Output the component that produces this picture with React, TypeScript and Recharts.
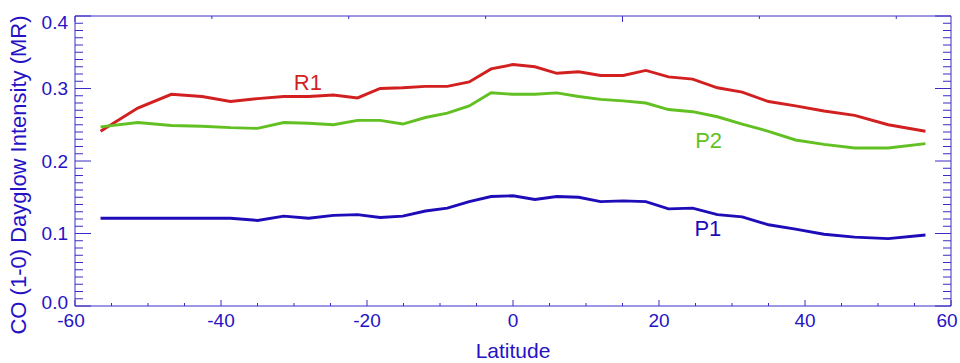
import { Line, LineChart, XAxis, YAxis, ReferenceDot } from "recharts";

// latitude grid of the retrievals (deg)
const latitudes = [
  -56.5, -51.4, -46.8, -42.6, -38.7, -35.0, -31.4, -28.0, -24.6, -21.3, -18.2, -15.1, -12.0, -9.0, -6.0, -3.0, 0,
  3.0, 6.0, 9.0, 12.0, 15.1, 18.2, 21.3, 24.6, 28.0, 31.4, 35.0, 38.7, 42.6, 46.8, 51.4, 56.5,
];

const r1 = [
  0.241, 0.273, 0.292, 0.289, 0.282, 0.286, 0.289, 0.289, 0.291, 0.287, 0.3, 0.301, 0.303, 0.303, 0.309, 0.327, 0.333,
  0.33, 0.321, 0.323, 0.318, 0.318, 0.325, 0.316, 0.313, 0.301, 0.295, 0.282, 0.276, 0.269, 0.263, 0.25, 0.241,
];
const p2 = [
  0.247, 0.253, 0.249, 0.248, 0.246, 0.245, 0.253, 0.252, 0.25, 0.256, 0.256, 0.251, 0.26, 0.266, 0.276, 0.294, 0.292,
  0.292, 0.294, 0.289, 0.285, 0.283, 0.28, 0.271, 0.268, 0.261, 0.251, 0.241, 0.229, 0.223, 0.218, 0.218, 0.224,
];
const p1 = [
  0.121, 0.121, 0.121, 0.121, 0.121, 0.118, 0.124, 0.121, 0.125, 0.126, 0.122, 0.124, 0.131, 0.135, 0.144, 0.151, 0.152,
  0.147, 0.151, 0.15, 0.144, 0.145, 0.144, 0.134, 0.135, 0.126, 0.123, 0.112, 0.106, 0.099, 0.095, 0.093, 0.098,
];

// every 5 deg, labelled every 20
const xTicks = [-60, -55, -50, -45, -40, -35, -30, -25, -20, -15, -10, -5, 0, 5, 10, 15, 20, 25, 30, 35, 40, 45, 50, 55, 60];
const xLabelled = [-60, -40, -20, 0, 20, 40, 60];
// every 0.01 MR, labelled every 0.1
const yTicks = Array.from({ length: 41 }, (_, i) => i / 100);
const isYMajor = (v: number) => Math.abs(v * 10 - Math.round(v * 10)) < 1e-6;

const seriesLabels = [
  { name: "R1", lat: -28.1, value: 0.309, color: "#d21f1f" },
  { name: "P2", lat: 26.8, value: 0.229, color: "#62c022" },
  { name: "P1", lat: 26.7, value: 0.107, color: "#1e0cb8" },
];

const FONT = '"Liberation Sans", Arial, Helvetica, sans-serif';
const TEXT = "#2612c4";
const AXIS = "#3a2cc4";

const data = latitudes.map((lat, i) => ({ lat, r1: r1[i], p2: p2[i], p1: p1[i] }));

// tick marks point into the frame, IDL style
function BottomTick(props: any) {
  const { x, y, payload } = props;
  const major = xLabelled.includes(payload.value);
  // end labels nudged so they stay on the page
  const dx = payload.value === -60 ? -4 : payload.value === 60 ? -4 : 0;
  return (
    <g>
      <line x1={x} x2={x} y1={y} y2={y - (major ? 6 : 3)} stroke={AXIS} />
      {major && (
        <text x={x + dx} y={y + 14} textAnchor="middle" dominantBaseline="central" fill={TEXT} fontSize={19} fontFamily={FONT}>
          {payload.value}
        </text>
      )}
    </g>
  );
}

function TopTick(props: any) {
  const { x, y, payload } = props;
  const major = xLabelled.includes(payload.value);
  return <line x1={x} x2={x} y1={y} y2={y + (major ? 6 : 3)} stroke={AXIS} />;
}

function LeftTick(props: any) {
  const { x, y, payload } = props;
  const major = isYMajor(payload.value);
  // end labels are kept inside the frame
  let dy = 0;
  if (payload.value >= 0.4) dy = 6;
  else if (payload.value <= 0) dy = -4;
  return (
    <g>
      <line x1={x} x2={x + (major ? 16 : 8)} y1={y} y2={y} stroke={AXIS} />
      {major && (
        <text x={x - 7} y={y + dy} textAnchor="end" dominantBaseline="central" fill={TEXT} fontSize={19} fontFamily={FONT}>
          {Number(payload.value).toFixed(1)}
        </text>
      )}
    </g>
  );
}

function RightTick(props: any) {
  const { x, y, payload } = props;
  const major = isYMajor(payload.value);
  return <line x1={x} x2={x - (major ? 16 : 8)} y1={y} y2={y} stroke={AXIS} />;
}

function YTitle(props: any) {
  const { viewBox } = props;
  const cx = viewBox.x + 18;
  const cy = viewBox.y + viewBox.height / 2 + 14;
  return (
    <text
      x={cx}
      y={cy}
      transform={`rotate(-90 ${cx} ${cy})`}
      textAnchor="middle"
      dominantBaseline="central"
      fill={TEXT}
      fontSize={22}
      fontFamily={FONT}
    >
      CO (1-0) Dayglow Intensity (MR)
    </text>
  );
}

function XTitle(props: any) {
  const { viewBox } = props;
  return (
    <text
      x={viewBox.x + viewBox.width / 2}
      y={viewBox.y + 44}
      textAnchor="middle"
      dominantBaseline="central"
      fill={TEXT}
      fontSize={21}
      fontFamily={FONT}
    >
      Latitude
    </text>
  );
}

export default function App() {
  const xDomain = [-60, 60];
  const yDomain = [0, 0.4];
  return (
    <div style={{ position: "absolute", left: 0, top: 0, width: 960, height: 363, background: "#fff" }}>
      <LineChart width={960} height={363} data={data} margin={{ top: 16, right: 9, bottom: 0, left: 0 }}>
        <XAxis
          xAxisId="x"
          type="number"
          dataKey="lat"
          domain={xDomain}
          allowDataOverflow
          ticks={xTicks}
          interval={0}
          height={57}
          tickLine={false}
          tickSize={0}
          tickMargin={0}
          axisLine={{ stroke: AXIS }}
          tick={<BottomTick />}
          label={<XTitle />}
        />
        <XAxis
          xAxisId="top"
          type="number"
          domain={xDomain}
          allowDataOverflow
          orientation="top"
          mirror
          height={1}
          ticks={xTicks}
          interval={0}
          tickLine={false}
          tickSize={0}
          tickMargin={0}
          axisLine={{ stroke: AXIS }}
          tick={<TopTick />}
        />

        <YAxis
          yAxisId="y"
          type="number"
          domain={yDomain}
          allowDataOverflow
          ticks={yTicks}
          interval={0}
          width={75}
          tickLine={false}
          tickSize={0}
          tickMargin={0}
          axisLine={{ stroke: AXIS }}
          tick={<LeftTick />}
          label={<YTitle />}
        />
        <YAxis
          yAxisId="right"
          type="number"
          domain={yDomain}
          allowDataOverflow
          orientation="right"
          mirror
          width={1}
          ticks={yTicks}
          interval={0}
          tickLine={false}
          tickSize={0}
          tickMargin={0}
          axisLine={{ stroke: AXIS }}
          tick={<RightTick />}
        />

        <Line xAxisId="x" yAxisId="y" type="linear" dataKey="r1" stroke="#d21f1f" strokeWidth={2.9} dot={false} isAnimationActive={false} />
        <Line xAxisId="x" yAxisId="y" type="linear" dataKey="p2" stroke="#62c022" strokeWidth={2.9} dot={false} isAnimationActive={false} />
        <Line xAxisId="x" yAxisId="y" type="linear" dataKey="p1" stroke="#1e0cb8" strokeWidth={2.9} dot={false} isAnimationActive={false} />

        {seriesLabels.map((s) => (
          <ReferenceDot
            key={s.name}
            xAxisId="x"
            yAxisId="y"
            x={s.lat}
            y={s.value}
            r={0}
            fill="none"
            stroke="none"
            label={{ value: s.name, position: "center", fill: s.color, fontSize: 22, fontFamily: FONT }}
          />
        ))}
      </LineChart>
    </div>
  );
}
